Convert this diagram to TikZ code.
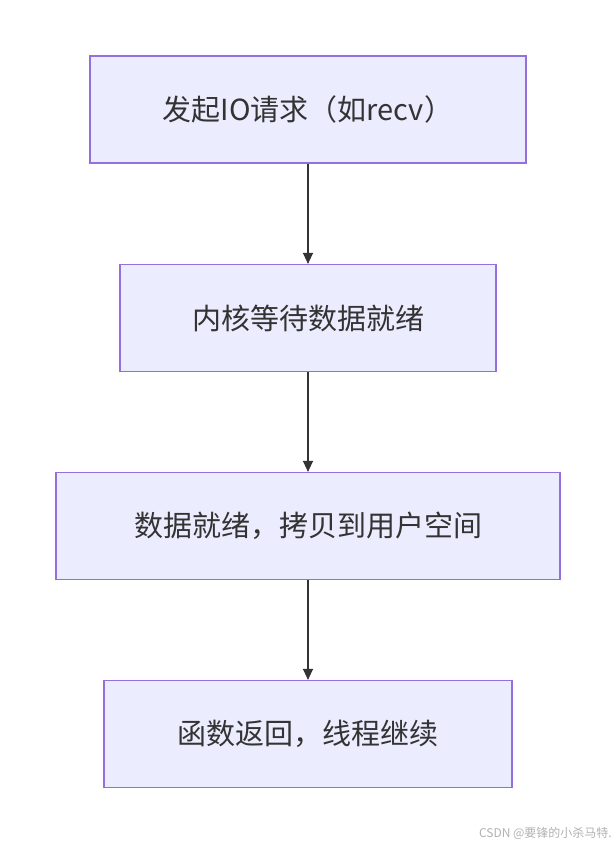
\documentclass[tikz,border=0pt]{standalone}
\usepackage{fontspec}
\setmainfont{Noto Sans CJK SC}
\usetikzlibrary{arrows.meta}
\definecolor{bfill}{HTML}{ECECFF}
\definecolor{bdraw}{HTML}{9370DB}
\definecolor{txt}{HTML}{333333}
\begin{document}
\begin{tikzpicture}[x=1pt,y=-1pt,
  box/.style={draw=bdraw,fill=bfill,line width=1.2pt,text=txt,font=\fontsize{29}{34}\selectfont,minimum height=107pt,inner sep=0},
  arr/.style={draw=txt,line width=1.3pt,-{Triangle[length=11pt,width=10pt]}}]
\useasboundingbox (0,0) rectangle (616,844);
\fill[white] (0,0) rectangle (616,844);
\node[box,minimum width=436pt] (a) at (308,109.5) {发起IO请求（如recv）};
\node[box,minimum width=376pt] (b) at (308,318) {内核等待数据就绪};
\node[box,minimum width=504pt] (c) at (308,526) {数据就绪，拷贝到用户空间};
\node[box,minimum width=408pt] (d) at (308,734) {函数返回，线程继续};
\draw[arr] (a) -- (b);
\draw[arr] (b) -- (c);
\draw[arr] (c) -- (d);
\node[text=gray!60,font=\fontsize{12}{14}\selectfont,anchor=east,inner sep=0] (w) at (612,833) {CSDN @要锋的小杀马特.};
\end{tikzpicture}
\end{document}
